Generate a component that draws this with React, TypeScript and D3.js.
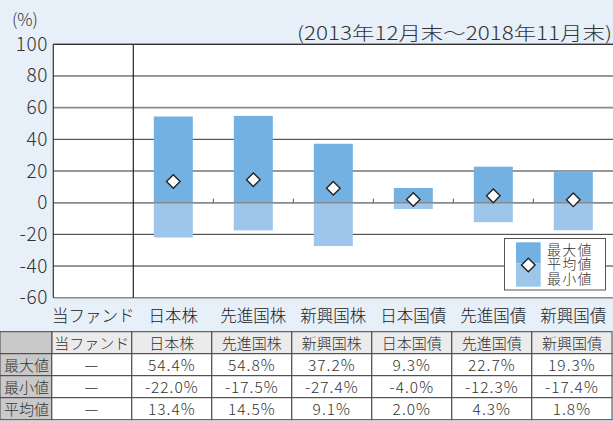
import React from 'react';
import * as d3 from 'd3';

const categories = ['当ファンド', '日本株', '先進国株', '新興国株', '日本国債', '先進国債', '新興国債'];
const maxVals: (number | null)[] = [null, 54.4, 54.8, 37.2, 9.3, 22.7, 19.3];
const minVals: (number | null)[] = [null, -22.0, -17.5, -27.4, -4.0, -12.3, -17.4];
const avgVals: (number | null)[] = [null, 13.4, 14.5, 9.1, 2.0, 4.3, 1.8];
const yTicks = [100, 80, 60, 40, 20, 0, -20, -40, -60];
const rowLabels = ['最大値', '最小値', '平均値'];
const legendLabels = ['最大値', '平均値', '最小値'];
const periodLabel = '(2013年12月末～2018年11月末)';

const W = 613;
const H = 421;
const FONT = "'Noto Sans CJK JP', 'Noto Sans', sans-serif";
const MAX_COLOR = '#72b1e2';
const MIN_COLOR = '#9dc6ea';
const BG = '#e7eff9';

export default function App() {
  const x = d3.scaleBand<string>().domain(categories).range([53.3, 613.3]).padding(0);
  const y = d3.scaleLinear().domain([-60, 100]).range([297.7, 44.3]);
  const bw = 39;
  const dPath = (cx: number, cy: number, r: number) =>
    `M${cx},${cy - r}L${cx + r},${cy}L${cx},${cy + r}L${cx - r},${cy}Z`;

  const rowsData = [maxVals, minVals, avgVals];
  const tableTop = 331.7;
  const rowH = 22;
  const colEdges = [0, ...categories.map((c) => x(c)! - 1.5), 612];
  const fmt = (v: number | null) => (v === null ? '—' : v.toFixed(1) + '%');

  return (
    <svg
      width={W}
      height={H}
      style={{ position: 'absolute', left: 0, top: 0, display: 'block' }}
      fontFamily={FONT}
      fontWeight={300}
    >
      <rect x={0} y={0} width={W} height={H} fill={BG} />
      <rect x={x.range()[0]} y={y(100)} width={613 - x.range()[0]} height={y(-60) - y(100)} fill="#fff" />
      {yTicks.map((t) => {
        const gray = t === 60 || t === 0 || t === -60;
        return (
          <line
            key={t}
            x1={x.range()[0]}
            x2={W}
            y1={y(t)}
            y2={y(t)}
            stroke={gray ? '#8a8a8a' : '#333'}
            strokeWidth={gray ? 1.6 : 1}
          />
        );
      })}
      {categories.map((c, i) => {
        const cx = x(c)! + x.bandwidth() / 2;
        const mx = maxVals[i];
        const mn = minVals[i];
        if (mx === null || mn === null) return null;
        return (
          <g key={c}>
            <rect x={cx - bw / 2} y={y(mx)} width={bw} height={y(0) - y(mx)} fill={MAX_COLOR} />
            <rect x={cx - bw / 2} y={y(0)} width={bw} height={y(mn) - y(0)} fill={MIN_COLOR} />
          </g>
        );
      })}
      <line x1={x.range()[0]} x2={W} y1={y(0)} y2={y(0)} stroke="#8a8a8a" strokeWidth={1.4} />
      {categories.slice(2).map((c) => (
        <line key={c} x1={x(c)!} x2={x(c)!} y1={y(0) - 4} y2={y(0)} stroke="#555" strokeWidth={1} />
      ))}
      <line x1={x.range()[0]} x2={x.range()[0]} y1={y(100)} y2={y(-60)} stroke="#333" strokeWidth={1.2} />
      <line x1={x(categories[1])!} x2={x(categories[1])!} y1={y(100)} y2={y(-60)} stroke="#222" strokeWidth={1.2} />
      <line x1={x.range()[0]} x2={W} y1={y(100)} y2={y(100)} stroke="#333" strokeWidth={1.2} />
      {categories.map((c, i) => {
        const v = avgVals[i];
        if (v === null) return null;
        const cx = x(c)! + x.bandwidth() / 2;
        return <path key={c} d={dPath(cx, y(v), 6.8)} fill="#fff" stroke="#222" strokeWidth={1.4} />;
      })}
      {yTicks.map((t) => (
        <text key={t} x={48} y={y(t) + 6.5} textAnchor="end" fontSize={19} fill="#333" letterSpacing={0.6}>
          {t}
        </text>
      ))}
      <text x={12} y={26} fontSize={17} fill="#333">(%)</text>
      <text x={297} y={40} fontSize={18.5} fill="#333" textLength={315} lengthAdjust="spacingAndGlyphs">
        {periodLabel}
      </text>
      {categories.map((c) => (
        <text key={c} x={x(c)! + x.bandwidth() / 2} y={322} textAnchor="middle" fontSize={16.5} fill="#222">
          {c}
        </text>
      ))}
      <g>
        <rect x={504.5} y={238.5} width={101} height={51.5} fill="#fff" stroke="#555" strokeWidth={1} />
        <rect x={516} y={242.3} width={24.7} height={21} fill={MAX_COLOR} />
        <rect x={516} y={263.3} width={24.7} height={23.4} fill={MIN_COLOR} />
        <path d={dPath(528.3, 265, 6.8)} fill="#fff" stroke="#222" strokeWidth={1.4} />
        <foreignObject x={547} y={241.6} width={56} height={47}>
          <div
            style={{
              fontFamily: FONT,
              fontWeight: 300,
              fontSize: '14px',
              lineHeight: '14.6px',
              letterSpacing: '1.2px',
              color: '#333',
              margin: 0,
              padding: 0,
              whiteSpace: 'pre',
            }}
          >
            {legendLabels.join('\n')}
          </div>
        </foreignObject>
      </g>
      <g>
        {categories.map((c, i) => (
          <g key={c}>
            <rect x={colEdges[i + 1]} y={tableTop} width={colEdges[i + 2] - colEdges[i + 1]} height={rowH} fill="#ebebeb" stroke="#444" strokeWidth={1} />
            <text x={(colEdges[i + 1] + colEdges[i + 2]) / 2} y={tableTop + 17} textAnchor="middle" fontSize={15} fill="#333">
              {c}
            </text>
          </g>
        ))}
        <rect x={0} y={tableTop} width={colEdges[1]} height={rowH} fill="#c9c9c9" stroke="#444" strokeWidth={1} />
        {rowsData.map((row, r) => {
          const ty = tableTop + rowH * (r + 1);
          return (
            <g key={r}>
              <rect x={0} y={ty} width={colEdges[1]} height={rowH} fill="#c9c9c9" stroke="#444" strokeWidth={1} />
              <text x={4} y={ty + 17} fontSize={15} fill="#333">{rowLabels[r]}</text>
              {row.map((v, i) => (
                <g key={i}>
                  <rect x={colEdges[i + 1]} y={ty} width={colEdges[i + 2] - colEdges[i + 1]} height={rowH} fill="#fff" stroke="#444" strokeWidth={1} />
                  <text x={(colEdges[i + 1] + colEdges[i + 2]) / 2} y={ty + 17.5} textAnchor="middle" fontSize={15.5} fill="#333" letterSpacing={1}>
                    {fmt(v)}
                  </text>
                </g>
              ))}
            </g>
          );
        })}
      </g>
    </svg>
  );
}
